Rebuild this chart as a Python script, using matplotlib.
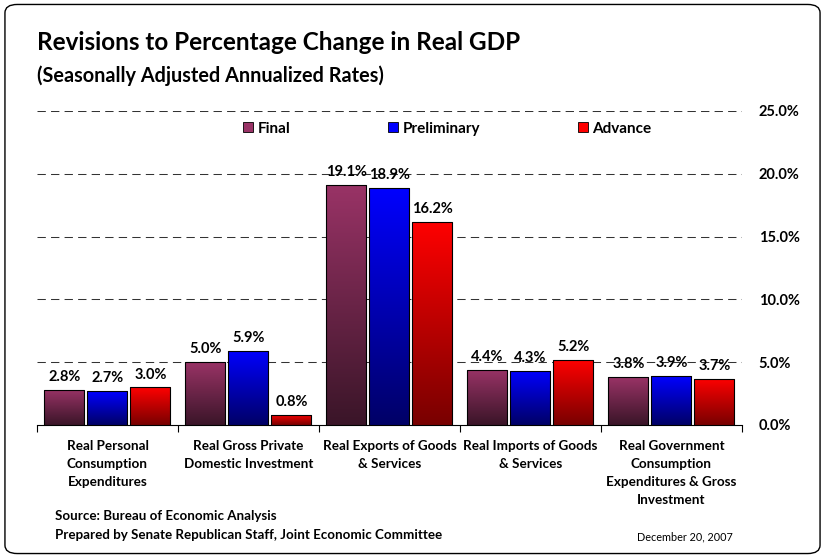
import numpy as np
import matplotlib
matplotlib.use("Agg")
import matplotlib.pyplot as plt
from matplotlib.patches import FancyBboxPatch, Patch
from matplotlib.colors import to_rgb

plt.rcParams['font.family'] = ['Lato', 'DejaVu Sans']

categories = ["Real Personal\nConsumption\nExpenditures",
              "Real Gross Private\nDomestic Investment",
              "Real Exports of Goods\n& Services",
              "Real Imports of Goods\n& Services",
              "Real Government\nConsumption\nExpenditures & Gross\nInvestment"]
final = [2.8, 5.0, 19.1, 4.4, 3.8]
preliminary = [2.7, 5.9, 18.9, 4.3, 3.9]
advance = [3.0, 0.8, 16.2, 5.2, 3.7]
series_names = ["Final", "Preliminary", "Advance"]
yticks = [0, 5, 10, 15, 20, 25]

# top colour, bottom colour of each gradient
grad = [("#993366", "#3a1528"), ("#0000ff", "#000066"), ("#ff0000", "#780000")]

fig = plt.figure(figsize=(8.25, 5.58), dpi=100)
ax = fig.add_axes([0.0448, 0.2384, 0.8545, 0.5627])

x = np.arange(len(categories))
w = 0.284
offs = [-0.305, 0, 0.305]

for vals, off, (c_top, c_bot), name in zip([final, preliminary, advance], offs, grad, series_names):
    bars = ax.bar(x + off, vals, w, color=c_top, edgecolor="black", linewidth=0.8, zorder=3)
    t = np.linspace(0, 1, 256)[:, None]
    top, bot = np.array(to_rgb(c_top)), np.array(to_rgb(c_bot))
    img = (bot[None, :] * (1 - t) + top[None, :] * t)[:, None, :]
    for b, v in zip(bars, vals):
        x0 = b.get_x()
        im = ax.imshow(img, extent=[x0, x0 + w, 0, v], origin="lower",
                       aspect="auto", zorder=3.5, interpolation="bilinear")
        im.set_clip_path(b)
        b.set_facecolor("none")
        b.set_zorder(4)
        ax.text(x0 + w / 2, v + 0.7, f"{v:.1f}%", ha="center", va="baseline",
                fontsize=10.5, fontweight="bold", zorder=5)

ax.set_xlim(-0.5, len(categories) - 0.5)
ax.set_ylim(0, 25)

for y in yticks[1:]:
    ax.axhline(y, color="#333333", lw=0.75, dashes=(8, 5), zorder=1)

ax.yaxis.tick_right()
ax.set_yticks(yticks)
ax.set_yticklabels([f"{v:.1f}%" for v in yticks], fontweight="bold", fontsize=10.5)
ax.tick_params(axis="y", length=0, pad=12)

ax.set_xticks(x)
ax.set_xticklabels(categories, fontweight="bold", fontsize=9.7, linespacing=1.6)
ax.tick_params(axis="x", length=0, pad=11)
ax.set_xticks(np.arange(-0.5, len(categories)), minor=True)
ax.tick_params(axis="x", which="minor", length=5, width=0.8, direction="out")

for s in ["left", "top", "right"]:
    ax.spines[s].set_visible(False)
ax.spines["bottom"].set_linewidth(0.8)

handles = [Patch(facecolor=c[0], edgecolor="black", linewidth=0.6) for c in grad]
ax.legend(handles, series_names, loc="center", bbox_to_anchor=(0.582, 0.944), ncol=3,
          frameon=False, handlelength=0.65, handleheight=0.65, handletextpad=0.3,
          columnspacing=6.4, prop={"weight": "bold", "size": 11})

fig.text(37 / 825, 1 - 43 / 558, "Revisions to Percentage Change in Real GDP",
         fontsize=17.5, fontweight="bold", va="center")
fig.text(37 / 825, 1 - 76 / 558, "(Seasonally Adjusted Annualized Rates)",
         fontsize=14.3, fontweight="bold", va="center")
fig.text(55 / 825, 1 - 516 / 558, "Source: Bureau of Economic Analysis",
         fontsize=9.6, fontweight="bold", va="center")
fig.text(55 / 825, 1 - 535 / 558, "Prepared by Senate Republican Staff, Joint Economic Committee",
         fontsize=9.6, fontweight="bold", va="center")
fig.text(733 / 825, 1 - 537 / 558, "December 20, 2007", fontsize=7.8, ha="right", va="center")

fig.patches.append(FancyBboxPatch((0.006, 0.008), 0.988, 0.984,
                                  boxstyle="round,pad=0,rounding_size=0.015",
                                  transform=fig.transFigure, facecolor="none",
                                  edgecolor="black", linewidth=1.0))

fig.savefig("out.png", dpi=100)
